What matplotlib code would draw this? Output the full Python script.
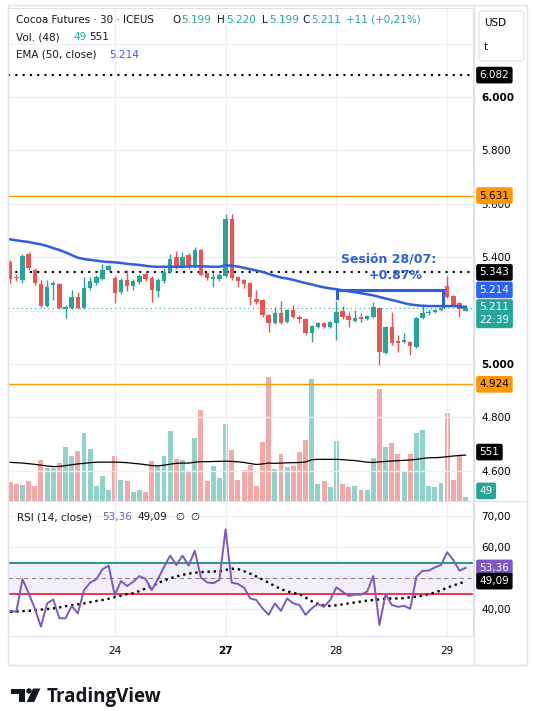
import numpy as np
import matplotlib
matplotlib.use("Agg")
import matplotlib.pyplot as plt
import matplotlib.transforms as mtransforms
from matplotlib.patches import Rectangle, FancyBboxPatch, Circle, Polygon

# velas de 30 min, 23/07 -> 29/07 (75 velas)
opens = [5.382, 5.326, 5.315, 5.412, 5.352, 5.300, 5.217, 5.296, 5.300, 5.206,
         5.210, 5.251, 5.210, 5.285, 5.303, 5.318, 5.352, 5.322, 5.270, 5.315,
         5.292, 5.307, 5.337, 5.322, 5.273, 5.311, 5.345, 5.401, 5.363, 5.408,
         5.363, 5.427, 5.341, 5.320, 5.318, 5.330, 5.543, 5.326, 5.315, 5.303,
         5.243, 5.240, 5.184, 5.154, 5.191, 5.157, 5.202, 5.176, 5.169, 5.116,
         5.139, 5.154, 5.139, 5.154, 5.199, 5.180, 5.161, 5.176, 5.169, 5.176,
         5.210, 5.041, 5.139, 5.086, 5.082, 5.082, 5.064, 5.172, 5.191, 5.195,
         5.202, 5.292, 5.255, 5.228, 5.199]
highs = [5.390, 5.337, 5.412, 5.419, 5.360, 5.315, 5.315, 5.311, 5.303, 5.221,
         5.277, 5.270, 5.326, 5.326, 5.333, 5.375, 5.371, 5.330, 5.322, 5.352,
         5.318, 5.337, 5.345, 5.330, 5.322, 5.360, 5.412, 5.423, 5.419, 5.416,
         5.438, 5.431, 5.345, 5.341, 5.341, 5.562, 5.562, 5.330, 5.318, 5.307,
         5.277, 5.243, 5.187, 5.213, 5.236, 5.206, 5.221, 5.184, 5.172, 5.146,
         5.157, 5.157, 5.161, 5.236, 5.217, 5.195, 5.202, 5.191, 5.184, 5.232,
         5.213, 5.142, 5.195, 5.109, 5.116, 5.086, 5.176, 5.225, 5.206, 5.206,
         5.213, 5.330, 5.258, 5.232, 5.220]
lows = [5.305, 5.311, 5.303, 5.352, 5.296, 5.213, 5.213, 5.240, 5.206, 5.172,
        5.206, 5.206, 5.206, 5.277, 5.296, 5.315, 5.348, 5.228, 5.262, 5.273,
        5.277, 5.300, 5.311, 5.232, 5.251, 5.303, 5.341, 5.356, 5.360, 5.356,
        5.360, 5.330, 5.315, 5.288, 5.311, 5.326, 5.315, 5.288, 5.285, 5.221,
        5.225, 5.176, 5.120, 5.150, 5.150, 5.154, 5.172, 5.154, 5.109, 5.082,
        5.135, 5.135, 5.135, 5.090, 5.169, 5.139, 5.157, 5.157, 5.165, 5.172,
        4.996, 5.037, 5.071, 5.045, 5.079, 5.034, 5.060, 5.169, 5.184, 5.191,
        5.199, 5.247, 5.217, 5.176, 5.199]
closes = [5.318, 5.322, 5.404, 5.360, 5.303, 5.217, 5.288, 5.303, 5.210, 5.213,
          5.251, 5.210, 5.285, 5.311, 5.326, 5.352, 5.367, 5.266, 5.315, 5.292,
          5.311, 5.330, 5.318, 5.277, 5.315, 5.345, 5.393, 5.363, 5.401, 5.363,
          5.427, 5.333, 5.322, 5.324, 5.333, 5.543, 5.322, 5.311, 5.300, 5.251,
          5.232, 5.184, 5.154, 5.191, 5.154, 5.202, 5.176, 5.169, 5.116, 5.142,
          5.154, 5.139, 5.157, 5.195, 5.176, 5.165, 5.172, 5.169, 5.180, 5.213,
          5.045, 5.139, 5.079, 5.079, 5.090, 5.067, 5.172, 5.191, 5.195, 5.202,
          5.210, 5.251, 5.221, 5.206, 5.211]
volume = [224, 204, 192, 240, 180, 492, 400, 400, 452, 644,
          540, 600, 816, 624, 180, 300, 132, 540, 252, 240,
          108, 132, 108, 480, 420, 540, 840, 504, 492, 348,
          756, 1092, 240, 420, 276, 924, 612, 252, 372, 432,
          180, 708, 1488, 384, 564, 408, 420, 588, 732, 1464,
          204, 240, 168, 720, 204, 168, 180, 132, 132, 516,
          1344, 648, 696, 564, 360, 564, 816, 852, 180, 168,
          216, 1056, 252, 552, 49]
vol_ma = [464, 460, 455, 448, 440, 430, 420, 413, 415, 425,
          435, 445, 452, 460, 465, 466, 466, 466, 464, 460,
          452, 445, 436, 425, 422, 430, 442, 452, 455, 455,
          465, 472, 472, 474, 476, 478, 475, 470, 462, 450,
          438, 445, 455, 452, 455, 458, 460, 462, 468, 495,
          500, 500, 500, 500, 496, 490, 485, 476, 466, 462,
          470, 475, 480, 484, 488, 492, 500, 510, 518, 520,
          524, 532, 540, 546, 551]
ema50 = [5.467, 5.463, 5.460, 5.457, 5.452, 5.448, 5.442, 5.434, 5.427, 5.418,
         5.408, 5.398, 5.393, 5.390, 5.387, 5.384, 5.382, 5.381, 5.378, 5.375,
         5.373, 5.371, 5.368, 5.365, 5.364, 5.364, 5.364, 5.364, 5.364, 5.365,
         5.366, 5.366, 5.365, 5.364, 5.364, 5.370, 5.368, 5.365, 5.360, 5.355,
         5.350, 5.345, 5.337, 5.330, 5.324, 5.320, 5.315, 5.309, 5.303, 5.298,
         5.292, 5.287, 5.283, 5.280, 5.276, 5.272, 5.269, 5.265, 5.261, 5.257,
         5.251, 5.245, 5.240, 5.234, 5.228, 5.223, 5.220, 5.218, 5.217, 5.217,
         5.217, 5.217, 5.217, 5.215, 5.214]
rsi = [39.5, 39.2, 49.7, 45.2, 40.3, 34.4, 41.9, 43.2, 37.1, 37.1,
       41.1, 38.7, 46.2, 48.6, 49.7, 52.9, 54.1, 44.6, 49.1, 47.5,
       48.9, 50.7, 49.8, 46.2, 49.7, 53.7, 57.3, 54.3, 57.3, 54.1,
       58.9, 50.2, 48.7, 48.4, 49.5, 65.8, 48.6, 48.2, 47.0, 43.5,
       43.0, 40.3, 38.2, 41.9, 39.5, 43.5, 41.9, 41.4, 38.2, 40.3,
       41.7, 40.8, 43.0, 47.1, 45.7, 44.3, 44.7, 44.7, 45.7, 50.7,
       34.9, 44.9, 41.4, 40.8, 41.1, 40.2, 50.5, 52.4, 52.5, 53.5,
       54.3, 58.4, 55.9, 52.5, 53.36]
rsi_ma = [39.2, 39.3, 39.4, 39.5, 39.7, 39.9, 40.1, 40.3, 40.6, 41.0,
          41.3, 41.6, 41.9, 42.3, 42.7, 43.0, 43.4, 43.9, 44.4, 44.9,
          45.2, 45.9, 46.7, 47.4, 48.4, 49.3, 50.0, 50.6, 51.1, 51.5,
          51.8, 52.0, 52.1, 52.2, 52.2, 52.7, 53.1, 53.0, 52.3, 51.5,
          50.6, 49.6, 48.6, 47.5, 46.5, 45.8, 45.3, 44.9, 43.8, 42.6,
          41.8, 41.2, 41.1, 41.3, 41.6, 41.9, 42.2, 42.5, 42.8, 43.0,
          43.2, 43.4, 43.5, 43.5, 43.6, 43.9, 44.1, 44.4, 44.9, 45.4,
          46.1, 47.0, 47.7, 48.3, 49.09]

day_pos = [17, 35, 53, 71]
day_labels = ["24", "27", "28", "29"]
price_ticks = [6.2, 6.0, 5.8, 5.6, 5.4, 5.2, 5.0, 4.8, 4.6]
ocultas = [6.2, 5.2]  # tapadas por la caja USD y las etiquetas de precio
rsi_ticks = [70, 60, 40]

nivel_alto = 6.082
nivel_naranja = [5.631, 4.924]
nivel_punteado = 5.343
ultimo = 5.211
ema_ult = 5.214
banda_sup, banda_inf = 55, 45

# anotacion sesion 28/07
ses_x = [53.1, 70.3]
ses_y = 5.277
ses_pie = [5.247, 5.217]

UP = "#26a69a"
DN = "#ef5350"
GRID = "#eef0f4"
BORDE = "#dfe2ea"
AZUL = "#2f5fe0"

W, H = 535, 711
fig = plt.figure(figsize=(W / 100, H / 100), dpi=100)
fig.patch.set_facecolor("white")
plt.rcParams["font.family"] = ["DejaVu Sans"]


def fr(x0, y0, x1, y1):
    # caja en pixeles -> fraccion de figura
    return [x0 / W, 1 - y1 / H, (x1 - x0) / W, (y1 - y0) / H]


px = mtransforms.Affine2D().scale(1 / W, -1 / H).translate(0, 1) + fig.transFigure

x = np.arange(len(closes))
o = np.array(opens)
c = np.array(closes)
sube = c >= o
colores = np.where(sube, UP, DN)

# ---------------- panel precio + volumen ----------------
axv = fig.add_axes(fr(8, 8, 473, 501))
ax = fig.add_axes(fr(8, 8, 473, 501))
ax.patch.set_alpha(0)

axv.bar(x, volume, width=0.8, color=colores, alpha=0.5, zorder=1)
axv.plot(x, vol_ma, color="black", lw=0.9, zorder=2)
axv.set_ylim(0, 5916)
axv.set_xlim(-0.35, 75.2)
axv.set_yticks([])
axv.set_xticks(day_pos)
axv.tick_params(axis="x", length=0, labelbottom=False)
axv.grid(axis="x", color=GRID, lw=1)
for s in axv.spines.values():
    s.set_visible(False)

ax.set_xlim(-0.35, 75.2)
ax.set_ylim(4.4869, 6.3333)
ax.set_xticks(day_pos)
ax.tick_params(axis="x", length=0, labelbottom=False)
ax.yaxis.tick_right()
ax.set_yticks(price_ticks, labels=["" if t in ocultas else "%.3f" % t for t in price_ticks])
ax.tick_params(axis="y", length=0, pad=6, labelsize=7.5)
for lbl in ax.get_yticklabels():
    if lbl.get_text() in ("6.000", "5.000"):
        lbl.set_fontweight("bold")
ax.grid(axis="y", color=GRID, lw=1)
for s in ax.spines.values():
    s.set_color(BORDE)

# velas
cuerpo_lo = np.minimum(o, c)
cuerpo_h = np.maximum(np.abs(c - o), 0.003)
ax.vlines(x, lows, highs, color=colores, lw=1, zorder=3)
ax.bar(x, cuerpo_h, bottom=cuerpo_lo, width=0.72, color=colores, zorder=4)

ax.plot(x, ema50, color=AZUL, lw=1.8, zorder=5)

ax.axhline(nivel_alto, color="black", lw=1.5, ls=(0, (1, 2.5)), zorder=2)
ax.axhline(nivel_punteado, color="black", lw=1.5, ls=(0, (1, 2.5)), zorder=2)
for nv in nivel_naranja:
    ax.axhline(nv, color="#ff9800", lw=1, zorder=2)
ax.axhline(ultimo, color=UP, lw=0.8, ls=(0, (1, 3)), zorder=2)

# corchete + texto
ax.plot([ses_x[0], ses_x[0], ses_x[1], ses_x[1]],
        [ses_pie[0], ses_y, ses_y, ses_pie[1]], color=AZUL, lw=2.2, zorder=6,
        solid_joinstyle="miter")
ax.text(61.5, 5.395, "Sesión 28/07:", color=AZUL, fontsize=9, fontweight="bold",
        ha="center", va="center", zorder=7)
ax.text(62.6, 5.331, "+0.87%", color=AZUL, fontsize=9, fontweight="bold",
        ha="center", va="center", zorder=7)


def etiqueta(axe, val, txt, fc, tc, dy=0, bold=False):
    axe.annotate(txt, xy=(1, val), xycoords=("axes fraction", "data"),
                 xytext=(6.5 * 0.72, -dy * 0.72), textcoords="offset points",
                 ha="left", va="center", fontsize=7.5, color=tc,
                 fontweight="bold" if bold else "normal", linespacing=1.3,
                 bbox=dict(boxstyle="round,pad=0.32,rounding_size=0.2", fc=fc, ec="none"),
                 annotation_clip=False, zorder=20)


etiqueta(ax, nivel_alto, "6.082", "black", "white")
etiqueta(ax, nivel_naranja[0], "5.631", "#ff9800", "black")
etiqueta(ax, nivel_naranja[1], "4.924", "#ff9800", "black")
etiqueta(ax, nivel_punteado, "5.343", "black", "white")
etiqueta(ax, ema_ult, "5.214", "#2962ff", "white", dy=-17)
etiqueta(ax, ultimo, "5.211\n22:39", UP, "white", dy=6)
etiqueta(axv, vol_ma[-1], "551", "black", "white", dy=-3)
etiqueta(axv, volume[-1], "49", UP, "white", dy=-6)

# ---------------- panel RSI ----------------
ar = fig.add_axes(fr(8, 501, 473, 636))
ar.set_xlim(-0.35, 75.2)
ar.set_ylim(31.39, 74.94)
ar.axhspan(banda_inf, banda_sup, color="#7e57c2", alpha=0.09, lw=0)
ar.axhline(banda_sup, color="#22998a", lw=1.4)
ar.axhline(banda_inf, color="#f23645", lw=1.4)
ar.axhline(50, color="#888888", lw=0.8, ls=(0, (4, 3)))
ar.plot(x, rsi_ma, color="black", lw=1.7, ls=(0, (1, 1.6)), zorder=3)
ar.plot(x, rsi, color="#7e57c2", lw=1.4, zorder=4)
ar.yaxis.tick_right()
ar.set_yticks(rsi_ticks, labels=[("%.2f" % t).replace(".", ",") for t in rsi_ticks])
ar.tick_params(axis="y", length=0, pad=6, labelsize=7.5)
ar.set_xticks(day_pos, labels=day_labels)
ar.tick_params(axis="x", length=0, pad=7, labelsize=7.5)
for lbl in ar.get_xticklabels():
    if lbl.get_text() == "27":
        lbl.set_fontweight("bold")
ar.grid(color=GRID, lw=1)
for s in ar.spines.values():
    s.set_color(BORDE)
etiqueta(ar, rsi[-1], "53,36", "#7e57c2", "white")
etiqueta(ar, rsi_ma[-1], "49,09", "black", "white")

# marco general
fig.add_artist(Rectangle((8, 5), 519, 660, transform=px, fill=False, ec=BORDE, lw=1))
fig.add_artist(plt.Line2D([473.5, 473.5], [5, 665], transform=px, color=BORDE, lw=1))
fig.add_artist(plt.Line2D([473.5, 527], [501, 501], transform=px, color=BORDE, lw=1))

# caja USD
fig.add_artist(FancyBboxPatch((479, 11), 45, 50, boxstyle="round,pad=0,rounding_size=4",
                              transform=px, fc="white", ec=BORDE, lw=1))
fig.text(484 / W, 1 - 23 / H, "USD", fontsize=7.5, va="center")
fig.text(484 / W, 1 - 47 / H, "t", fontsize=7.5, va="center")

# leyendas
fs = 7.5


def texto(x0, y0, s, col="#131722", **kw):
    fig.text(x0 / W, 1 - y0 / H, s, fontsize=fs, color=col, va="center", **kw)


texto(16, 20, "Cocoa Futures · 30 · ICEUS")
texto(172, 20, "O")
texto(181, 20, "5.199", UP)
texto(217, 20, "H")
texto(226, 20, "5.220", UP)
texto(262, 20, "L")
texto(269, 20, "5.199", UP)
texto(302, 20, "C")
texto(311, 20, "5.211", UP)
texto(346, 20, "+11 (+0,21%)", UP)
texto(16, 37.5, "Vol. (48)")
texto(73, 37.5, "49", UP)
texto(89, 37.5, "551")
texto(16, 54.5, "EMA (50, close)")
texto(109, 54.5, "5.214", AZUL)
texto(17, 517, "RSI (14, close)")
texto(102, 517, "53,36", "#7e57c2")
texto(137, 517, "49,09")
texto(175, 517, "∅")
texto(190, 517, "∅")

# logo TradingView
fig.add_artist(Polygon([(11, 688.5), (24.7, 688.5), (24.7, 702), (18.8, 702),
                        (18.8, 693.8), (11, 693.8)], closed=True, transform=px,
                       fc="#131722", ec="none"))
fig.add_artist(Circle((29, 691), 2.7, transform=px, fc="#131722", ec="none"))
fig.add_artist(Polygon([(33, 688.5), (40.4, 688.5), (34.2, 702), (26.7, 702)],
                       closed=True, transform=px, fc="#131722", ec="none"))
fig.text(47 / W, 1 - 702 / H, "TradingView", fontsize=13.5, fontweight="bold",
         family=["Open Sans", "DejaVu Sans"], color="#131722", va="baseline")

fig.savefig("out.png", dpi=100)
